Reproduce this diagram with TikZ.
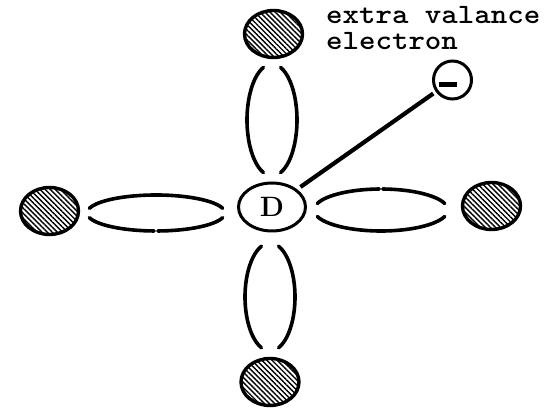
\documentclass[tikz,border=0pt]{standalone}
\usepackage{fontspec}
\usepackage{graphicx}
\usetikzlibrary{patterns.meta,shapes.geometric}
\begin{document}
\begin{tikzpicture}[x=1pt,y=1pt,
  atom/.style={draw, line width=3.4pt, ellipse, minimum width=58pt, minimum height=47pt, inner sep=0pt,
    pattern={Lines[angle=-45, distance=3.6pt, line width=1.4pt]}},
  bondline/.style={line width=3.6pt, line cap=round},
  lbl/.style={font=\fontsize{28}{22}\selectfont\ttfamily\bfseries, anchor=base west, inner sep=0pt, text depth=0pt}]
\useasboundingbox (0,0) rectangle (544,409);
% donor
\node[draw, ellipse, line width=3pt, minimum width=67pt, minimum height=48pt, inner sep=0pt,
  font=\fontsize{28}{28}\selectfont\bfseries] (D) at (272,202) {D};
% neighbour atoms
\node[atom] (top) at (273.5,375) {};
\node[atom] (left) at (49.5,198) {};
\node[atom] (right) at (491.5,203) {};
\node[atom] (bottom) at (270,27) {};
% bonds: left
\draw[bondline] (156,196) ++(195:69pt and 18pt) arc[start angle=195, end angle=268.5, x radius=69pt, y radius=18pt];
\draw[bondline] (156,196) ++(271.5:69pt and 18pt) arc[start angle=271.5, end angle=345, x radius=69pt, y radius=18pt];
\draw[bondline] (156,196) ++(15:69pt and 18pt) arc[start angle=15, end angle=165, x radius=69pt, y radius=18pt];
% bonds: right
\draw[bondline] (381,199) ++(18:67pt and 21pt) arc[start angle=18, end angle=88.5, x radius=67pt, y radius=21pt];
\draw[bondline] (381,199) ++(91.5:67pt and 21pt) arc[start angle=91.5, end angle=162, x radius=67pt, y radius=21pt];
\draw[bondline] (381,199) ++(198:67pt and 21pt) arc[start angle=198, end angle=342, x radius=67pt, y radius=21pt];
% bonds: top
\draw[bondline] (272,289) ++(110:25pt and 56pt) arc[start angle=110, end angle=250, x radius=25pt, y radius=56pt];
\draw[bondline] (272,289) ++(-70:25pt and 56pt) arc[start angle=-70, end angle=70, x radius=25pt, y radius=56pt];
% bonds: bottom
\draw[bondline] (270,112) ++(110:25pt and 54pt) arc[start angle=110, end angle=250, x radius=25pt, y radius=54pt];
\draw[bondline] (270,112) ++(-70:25pt and 54pt) arc[start angle=-70, end angle=70, x radius=25pt, y radius=54pt];
% extra electron
\node[draw, circle, line width=3pt, minimum size=38pt, inner sep=0pt] (e) at (452.5,329) {};
\fill (439,321.5) rectangle (457,327);
\draw[line width=4.2pt, shorten <=4pt, shorten >=3pt] (D) -- (e);
% label
\node[lbl] (t1) at (326,385) {\scalebox{1.12}[1]{extra valance}};
\node[lbl] (t2) at (326,359) {\scalebox{1.12}[1]{electron}};
\end{tikzpicture}
\end{document}
